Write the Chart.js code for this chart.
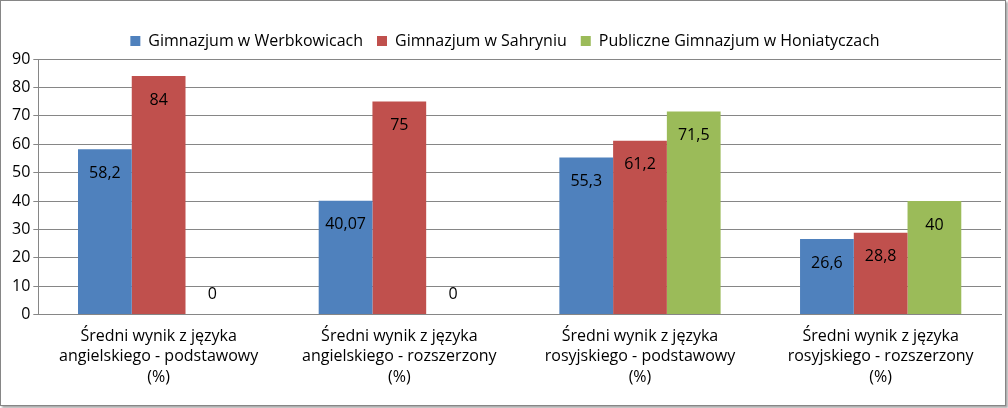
<!DOCTYPE html>
<html><head><meta charset="utf-8">
<script src="https://cdn.jsdelivr.net/npm/chart.js@4"></script>
<style>
html,body{margin:0;padding:0;background:#fff;}
#wrap{position:absolute;left:0;top:0;width:1004px;height:404px;border:1px solid #868686;box-shadow:2px 2px 2px #aaa;}
</style></head><body>
<div id="wrap"><canvas id="c" width="1004" height="404"></canvas></div>
<script>
const categories=[["Średni wynik z języka","angielskiego - podstawowy","(%)"],["Średni wynik z języka","angielskiego - rozszerzony","(%)"],["Średni wynik z języka","rosyjskiego - podstawowy","(%)"],["Średni wynik z języka","rosyjskiego - rozszerzony","(%)"]];
const seriesNames=["Gimnazjum w Werbkowicach","Gimnazjum w Sahryniu","Publiczne Gimnazjum w Honiatyczach"];
const werbkowice=[58.2,40.07,55.3,26.6];
const sahryn=[84,75,61.2,28.8];
const honiatycze=[0,0,71.5,40];
const labels=[["58,2","40,07","55,3","26,6"],["84","75","61,2","28,8"],["0","0","71,5","40"]];
const colors=["#4F81BD","#C0504D","#9BBB59"];
const F="'Open Sans', sans-serif";
const lblPlugin={id:'lbl',afterDatasetsDraw(ch){const ctx=ch.ctx;const base=ch.scales.y.getPixelForValue(0);
ctx.save();ctx.font="16px "+F;ctx.fillStyle="#000";ctx.textAlign="center";ctx.textBaseline="middle";
ch.data.datasets.forEach((d,i)=>{ch.getDatasetMeta(i).data.forEach((b,j)=>{const y=Math.min(b.y+24,base-20);ctx.fillText(labels[i][j],b.x,y);});});ctx.restore();}};
new Chart(document.getElementById('c'),{type:'bar',
data:{labels:categories,datasets:[werbkowice,sahryn,honiatycze].map((d,i)=>({label:seriesNames[i],data:d,backgroundColor:colors[i],categoryPercentage:0.67,barPercentage:1}))},
options:{responsive:false,animation:false,
layout:{padding:{left:8,right:4,top:18,bottom:14}},
plugins:{legend:{labels:{font:{family:F,size:16},color:'#000',boxWidth:10,boxHeight:10,padding:14}},tooltip:{enabled:false}},
scales:{x:{grid:{display:false},border:{color:'#868686'},ticks:{font:{family:F,size:16,lineHeight:1.3},color:'#000',maxRotation:0}},
y:{min:0,max:90,ticks:{stepSize:10,font:{family:F,size:16},color:'#000'},grid:{color:'#868686',tickLength:5},border:{color:'#868686'}}}},
plugins:[lblPlugin]});
</script></body></html>
